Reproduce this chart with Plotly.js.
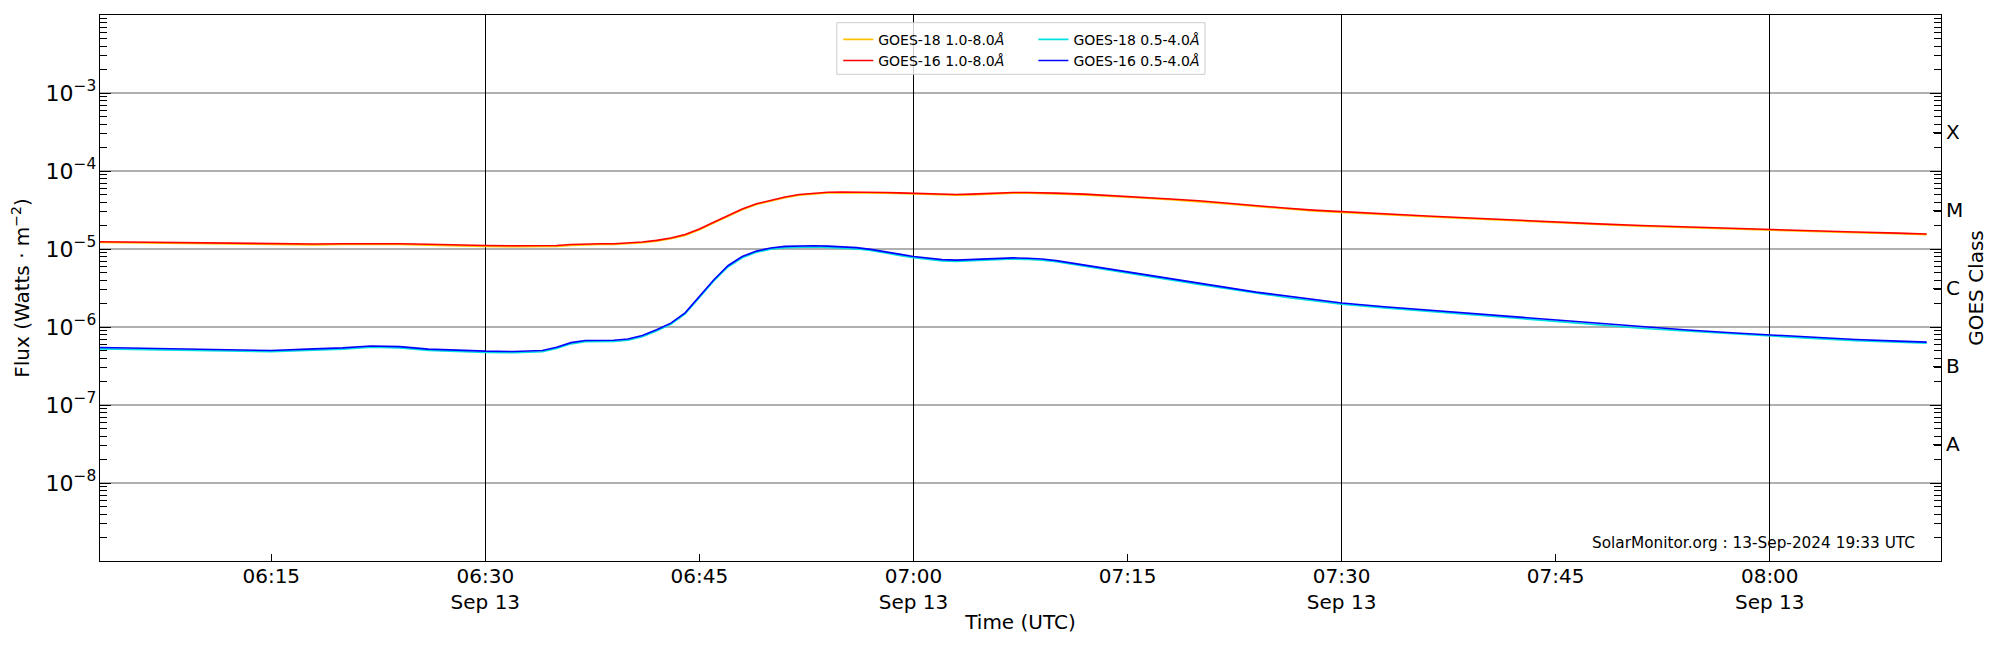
<!DOCTYPE html>
<html>
<head>
<meta charset="utf-8">
<script src="https://cdn.plot.ly/plotly-3.0.1.min.js"></script>
<style>
  html, body { margin: 0; padding: 0; background: #fff; }
  #plot { width: 2000px; height: 650px; }
</style>
</head>
<body>
<div id="plot"></div>
<script>
// GOES X-ray flux, 13 Sep 2024
const times = [
  '06:03', '06:06', '06:09', '06:12', '06:15', '06:18', '06:20', '06:22', '06:24', '06:26',
  '06:28', '06:30', '06:32', '06:34', '06:35', '06:36', '06:37', '06:38', '06:39', '06:40',
  '06:41', '06:42', '06:43', '06:44', '06:45', '06:46', '06:47', '06:48', '06:49', '06:50',
  '06:51', '06:52', '06:53', '06:54', '06:55', '06:56', '06:57', '06:58', '06:59', '07:00',
  '07:01', '07:02', '07:03', '07:04', '07:05', '07:06', '07:07', '07:08', '07:09', '07:10',
  '07:12', '07:14', '07:16', '07:18', '07:20', '07:22', '07:24', '07:26', '07:28', '07:30',
  '07:33', '07:36', '07:39', '07:42', '07:45', '07:48', '07:51', '07:54', '07:57', '08:00',
  '08:03', '08:06', '08:09', '08:11'
];

// GOES-16 1.0-8.0 A
const g16Long = [
  1.24e-5, 1.22e-5, 1.20e-5, 1.18e-5, 1.16e-5, 1.16e-5, 1.17e-5, 1.18e-5, 1.17e-5, 1.15e-5,
  1.12e-5, 1.11e-5, 1.10e-5, 1.10e-5, 1.11e-5, 1.14e-5, 1.16e-5, 1.17e-5, 1.17e-5, 1.19e-5,
  1.23e-5, 1.29e-5, 1.38e-5, 1.53e-5, 1.80e-5, 2.20e-5, 2.65e-5, 3.25e-5, 3.80e-5, 4.25e-5,
  4.65e-5, 5.00e-5, 5.20e-5, 5.33e-5, 5.37e-5, 5.38e-5, 5.35e-5, 5.30e-5, 5.25e-5, 5.18e-5,
  5.10e-5, 5.02e-5, 5.00e-5, 5.05e-5, 5.15e-5, 5.25e-5, 5.30e-5, 5.30e-5, 5.28e-5, 5.20e-5,
  5.05e-5, 4.85e-5, 4.60e-5, 4.38e-5, 4.15e-5, 3.85e-5, 3.60e-5, 3.35e-5, 3.15e-5, 3.00e-5,
  2.80e-5, 2.65e-5, 2.50e-5, 2.35e-5, 2.22e-5, 2.10e-5, 2.00e-5, 1.92e-5, 1.84e-5, 1.78e-5,
  1.72e-5, 1.65e-5, 1.60e-5, 1.56e-5
];

// GOES-18 1.0-8.0 A (sits just under the GOES-16 curve)
const g18Long = [
  1.21e-5, 1.19e-5, 1.17e-5, 1.15e-5, 1.13e-5, 1.13e-5, 1.14e-5, 1.15e-5, 1.14e-5, 1.12e-5,
  1.09e-5, 1.08e-5, 1.07e-5, 1.07e-5, 1.08e-5, 1.11e-5, 1.13e-5, 1.14e-5, 1.14e-5, 1.16e-5,
  1.20e-5, 1.26e-5, 1.35e-5, 1.49e-5, 1.76e-5, 2.15e-5, 2.59e-5, 3.18e-5, 3.72e-5, 4.16e-5,
  4.55e-5, 4.89e-5, 5.09e-5, 5.22e-5, 5.26e-5, 5.27e-5, 5.24e-5, 5.19e-5, 5.14e-5, 5.07e-5,
  4.99e-5, 4.91e-5, 4.89e-5, 4.94e-5, 5.04e-5, 5.14e-5, 5.19e-5, 5.19e-5, 5.17e-5, 5.09e-5,
  4.94e-5, 4.75e-5, 4.50e-5, 4.29e-5, 4.06e-5, 3.77e-5, 3.52e-5, 3.28e-5, 3.08e-5, 2.94e-5,
  2.74e-5, 2.59e-5, 2.45e-5, 2.30e-5, 2.17e-5, 2.06e-5, 1.96e-5, 1.88e-5, 1.80e-5, 1.74e-5,
  1.68e-5, 1.62e-5, 1.57e-5, 1.53e-5
];

// GOES-16 0.5-4.0 A
const g16Short = [
  5.45e-7, 5.35e-7, 5.20e-7, 5.10e-7, 5.00e-7, 5.25e-7, 5.40e-7, 5.70e-7, 5.60e-7, 5.20e-7,
  5.00e-7, 4.90e-7, 4.85e-7, 5.00e-7, 5.50e-7, 6.30e-7, 6.70e-7, 6.70e-7, 6.75e-7, 7.00e-7,
  7.80e-7, 9.20e-7, 1.12e-6, 1.52e-6, 2.50e-6, 4.00e-6, 6.10e-6, 8.00e-6, 9.40e-6, 1.03e-5,
  1.08e-5, 1.10e-5, 1.10e-5, 1.09e-5, 1.07e-5, 1.04e-5, 9.90e-6, 9.30e-6, 8.60e-6, 8.00e-6,
  7.60e-6, 7.30e-6, 7.20e-6, 7.35e-6, 7.55e-6, 7.70e-6, 7.70e-6, 7.60e-6, 7.45e-6, 7.10e-6,
  6.20e-6, 5.40e-6, 4.70e-6, 4.15e-6, 3.65e-6, 3.20e-6, 2.80e-6, 2.50e-6, 2.25e-6, 2.03e-6,
  1.82e-6, 1.65e-6, 1.50e-6, 1.36e-6, 1.23e-6, 1.10e-6, 1.00e-6, 9.20e-7, 8.50e-7, 7.90e-7,
  7.40e-7, 6.90e-7, 6.60e-7, 6.40e-7
];

// GOES-18 0.5-4.0 A
const g18Short = [
  5.25e-7, 5.15e-7, 5.00e-7, 4.92e-7, 4.82e-7, 5.06e-7, 5.20e-7, 5.50e-7, 5.40e-7, 5.01e-7,
  4.82e-7, 4.72e-7, 4.68e-7, 4.82e-7, 5.30e-7, 6.08e-7, 6.46e-7, 6.46e-7, 6.51e-7, 6.75e-7,
  7.52e-7, 8.87e-7, 1.08e-6, 1.47e-6, 2.41e-6, 3.86e-6, 5.88e-6, 7.72e-6, 9.07e-6, 9.94e-6,
  1.04e-5, 1.06e-5, 1.06e-5, 1.05e-5, 1.03e-5, 1.00e-5, 9.55e-6, 8.97e-6, 8.29e-6, 7.72e-6,
  7.33e-6, 7.04e-6, 6.94e-6, 7.09e-6, 7.28e-6, 7.43e-6, 7.43e-6, 7.33e-6, 7.19e-6, 6.85e-6,
  5.98e-6, 5.21e-6, 4.53e-6, 4.00e-6, 3.52e-6, 3.09e-6, 2.70e-6, 2.41e-6, 2.17e-6, 1.96e-6,
  1.76e-6, 1.59e-6, 1.45e-6, 1.31e-6, 1.19e-6, 1.06e-6, 9.65e-7, 8.88e-7, 8.20e-7, 7.62e-7,
  7.14e-7, 6.66e-7, 6.37e-7, 6.18e-7
];

// axis ticks
const day = '2024-09-13';
const xStart = '06:03', xEnd = '08:12';
const tickTimes = ['06:15', '06:30', '06:45', '07:00', '07:15', '07:30', '07:45', '08:00'];
const tickLabels = ['06:15', '06:30<br>Sep 13', '06:45', '07:00<br>Sep 13', '07:15',
                    '07:30<br>Sep 13', '07:45', '08:00<br>Sep 13'];
const decades = [-8, -7, -6, -5, -4, -3];
const goesClasses = ['A', 'B', 'C', 'M', 'X'];
const classFloor = [-8, -7, -6, -5, -4];   // log10 of the lower bound of each class

const FONT = 'DejaVu Sans';
const stamp = 'SolarMonitor.org : 13-Sep-2024 19:33 UTC';

const toDate = t => `${day} ${t}:00`;
const xs = times.map(toDate);

// minor log ticks 2..9 in every decade
const minorVals = [];
for (let e = -9; e <= -3; e++) {
    for (let k = 2; k <= 9; k++) minorVals.push(k * Math.pow(10, e));
}

function makeTrace(y, name, color, legend, onTop) {
    return {
        x: xs, y: y,
        type: 'scatter', mode: 'lines',
        name: name,
        line: { color: color, width: 1.6 },
        legend: legend,
        xaxis: onTop ? 'x2' : 'x',
        yaxis: onTop ? 'y2' : 'y',
        hoverinfo: 'x+y+name'
    };
}

const traces = [
    makeTrace(g18Long, 'GOES-18 1.0-8.0<i>Å</i>', '#ffc000', 'legend', false),
    makeTrace(g16Long, 'GOES-16 1.0-8.0<i>Å</i>', '#ff0000', 'legend', true),
    makeTrace(g18Short, 'GOES-18 0.5-4.0<i>Å</i>', '#00e0e0', 'legend2', false),
    makeTrace(g16Short, 'GOES-16 0.5-4.0<i>Å</i>', '#0000ff', 'legend2', true)
];

const xRange = [toDate(xStart), toDate(xEnd)];
const yRange = [-9, -2];

const legendBase = {
    orientation: 'v',
    bgcolor: 'rgba(0,0,0,0)',
    borderwidth: 0,
    font: { family: FONT, size: 14, color: '#000' },
    xanchor: 'left', yanchor: 'top',
    itemwidth: 30,
    tracegroupgap: 0
};

const layout = {
    width: 2000,
    height: 650,
    margin: { l: 100, r: 59, t: 15, b: 89 },
    paper_bgcolor: '#fff',
    plot_bgcolor: '#fff',
    font: { family: FONT, size: 20, color: '#000' },
    showlegend: true,
    xaxis: {
        type: 'date',
        range: xRange,
        tickmode: 'array',
        tickvals: tickTimes.map(toDate),
        ticktext: tickLabels,
        ticks: 'inside', ticklen: 7, tickwidth: 1, tickcolor: '#000',
        tickfont: { family: FONT, size: 20 },
        ticklabelstandoff: -3,
        showgrid: false,
        zeroline: false,
        showline: true, linecolor: '#000', linewidth: 1.3, mirror: true,
        title: { text: 'Time (UTC)', font: { family: FONT, size: 20 }, standoff: 1 },
        automargin: false
    },
    xaxis2: {
        type: 'date',
        overlaying: 'x',
        range: xRange,
        tick0: toDate('06:00'),
        dtick: 30 * 60 * 1000,
        showgrid: true, gridcolor: '#000', gridwidth: 1,
        showticklabels: false, ticks: '',
        showline: false, zeroline: false,
        automargin: false
    },
    yaxis: {
        type: 'log',
        range: yRange,
        tickmode: 'array',
        tickvals: decades.map(e => Math.pow(10, e)),
        ticktext: decades.map(e => `10<sup>\u2212${-e}</sup>`),
        ticks: 'inside', ticklen: 11, tickwidth: 1, tickcolor: '#000',
        tickfont: { family: FONT, size: 22 },
        ticklabelstandoff: -2,
        minor: { tickmode: 'array', tickvals: minorVals, ticks: 'inside', ticklen: 7,
                 tickwidth: 1, tickcolor: '#000', showgrid: false },
        showgrid: true, gridcolor: '#b0b0b0', gridwidth: 1.2,
        zeroline: false,
        showline: true, linecolor: '#000', linewidth: 1.3, mirror: 'ticks',
        title: { text: 'Flux (Watts \u00b7 m<sup>\u22122</sup>)', font: { family: FONT, size: 20 }, standoff: 10 },
        automargin: false
    },
    yaxis2: {
        type: 'log',
        overlaying: 'y',
        side: 'right',
        range: yRange,
        tickmode: 'array',
        tickvals: classFloor.map(e => Math.pow(10, e + 0.5)),
        ticktext: goesClasses,
        ticks: 'inside', ticklen: 8, tickwidth: 1, tickcolor: '#000',
        tickfont: { family: FONT, size: 20 },
        ticklabelstandoff: 4,
        showgrid: false, zeroline: false, showline: false,
        title: { text: 'GOES Class', font: { family: FONT, size: 20 }, standoff: 6 },
        automargin: false
    },
    legend: Object.assign({}, legendBase, { x: 0.401, y: 0.984 }),
    legend2: Object.assign({}, legendBase, { x: 0.507, y: 0.984 }),
    shapes: [{
        type: 'rect', xref: 'paper', yref: 'paper',
        x0: 0.4002, x1: 0.6002, y0: 0.8914, y1: 0.9859,
        fillcolor: 'rgba(255,255,255,0.8)',
        line: { color: '#cccccc', width: 1 },
        layer: 'above'
    }],
    annotations: [{
        text: stamp,
        xref: 'paper', yref: 'paper',
        x: 0.987, y: 0.033,
        xanchor: 'right', yanchor: 'middle',
        showarrow: false,
        font: { family: FONT, size: 15.3, color: '#000' }
    }]
};

Plotly.newPlot('plot', traces, layout, { displayModeBar: false, staticPlot: true });
</script>
</body>
</html>
